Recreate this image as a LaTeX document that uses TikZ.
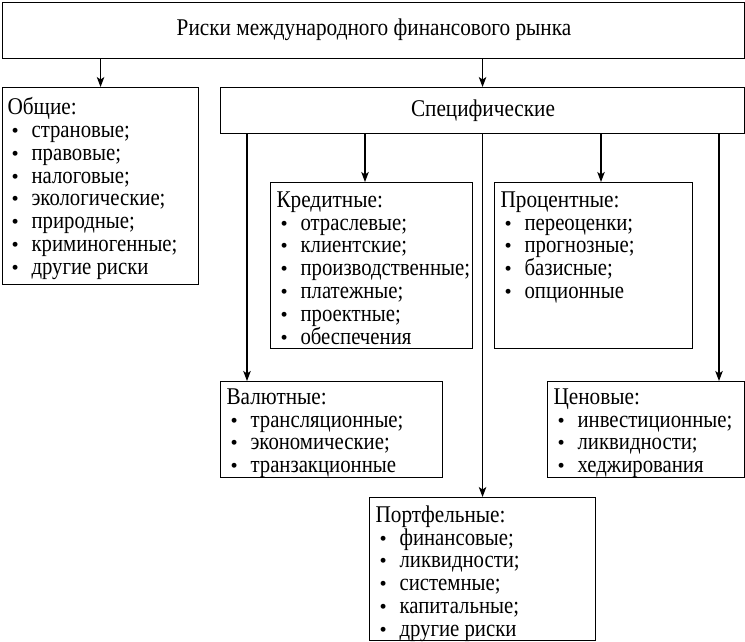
\documentclass[tikz,border=0pt]{standalone}
\usepackage{fontspec}
\usepackage{graphicx}
\setmainfont{Liberation Serif}
\usetikzlibrary{arrows.meta}
\newcommand{\sx}[1]{\scalebox{0.885}[1]{#1}}
\newcommand{\sxi}[1]{\scalebox{0.865}[1]{#1}}
\newcommand{\itm}[1]{\hspace*{4pt}\makebox[20pt][l]{\scalebox{0.85}{\textbullet}}\sxi{#1}}
\begin{document}
\begin{tikzpicture}[x=1pt,y=-1pt,line width=1.1pt,
  box/.style={draw,line width=1.1pt,inner sep=0pt,anchor=north west},
  lst/.style={anchor=north west,align=left,inner sep=0pt,font=\fontsize{24}{22.8}\selectfont},
  ttl/.style={font=\fontsize{24}{22.8}\selectfont,inner sep=0pt},
  arr/.style={-{Stealth[length=10pt,width=7.5pt,inset=2.5pt]}}]
\useasboundingbox (0,0) rectangle (745,641);
% boxes
\node[box,minimum width=742pt,minimum height=56.5pt] (top) at (1.5,1.5) {};
\node[ttl] (toptxt) at (374,30) {\sx{Риски международного финансового рынка}};
\node[box,minimum width=196pt,minimum height=197pt] (obs) at (2,87) {};
\node[box,minimum width=524pt,minimum height=46pt] (spec) at (220,87) {};
\node[ttl] (spectxt) at (483,111) {\sx{Специфические}};
\node[box,minimum width=202pt,minimum height=166pt] (kred) at (270,182) {};
\node[box,minimum width=198pt,minimum height=166pt] (proc) at (494,182) {};
\node[box,minimum width=222pt,minimum height=96pt] (val) at (220,381) {};
\node[box,minimum width=197pt,minimum height=96pt] (cen) at (547,381) {};
\node[box,minimum width=226pt,minimum height=143pt] (port) at (369,497) {};
% texts
\node[lst] (obstxt) at ([xshift=5pt,yshift=-10pt]obs.north west) {\sx{Общие:}\\ \itm{страновые;}\\ \itm{правовые;}\\ \itm{налоговые;}\\ \itm{экологические;}\\ \itm{природные;}\\ \itm{криминогенные;}\\ \itm{другие риски}};
\node[lst] (kredtxt) at ([xshift=6pt,yshift=-9pt]kred.north west) {\sx{Кредитные:}\\ \itm{отраслевые;}\\ \itm{клиентские;}\\ \itm{производственные;}\\ \itm{платежные;}\\ \itm{проектные;}\\ \itm{обеспечения}};
\node[lst] (proctxt) at ([xshift=6pt,yshift=-9pt]proc.north west) {\sx{Процентные:}\\ \itm{переоценки;}\\ \itm{прогнозные;}\\ \itm{базисные;}\\ \itm{опционные}};
\node[lst] (valtxt) at ([xshift=6pt,yshift=-7pt]val.north west) {\sx{Валютные:}\\ \itm{трансляционные;}\\ \itm{экономические;}\\ \itm{транзакционные}};
\node[lst] (centxt) at ([xshift=6pt,yshift=-7pt]cen.north west) {\sx{Ценовые:}\\ \itm{инвестиционные;}\\ \itm{ликвидности;}\\ \itm{хеджирования}};
\node[lst] (porttxt) at ([xshift=6pt,yshift=-8pt]port.north west) {\sx{Портфельные:}\\ \itm{финансовые;}\\ \itm{ликвидности;}\\ \itm{системные;}\\ \itm{капитальные;}\\ \itm{другие риски}};
% connector columns
\coordinate (cv) at (247,0);
\coordinate (ck) at (365,0);
\coordinate (cp) at (601,0);
\coordinate (cc) at (719,0);
\draw[arr] (top.south -| obs.north) -- (obs.north);
\draw[arr] (top.south -| spec.north) -- (spec.north);
\draw[arr] (spec.south -| cv) -- (val.north -| cv);
\draw[arr] (spec.south -| ck) -- (kred.north -| ck);
\draw[arr] (spec.south -| port.north) -- (port.north);
\draw[arr] (spec.south -| cp) -- (proc.north -| cp);
\draw[arr] (spec.south -| cc) -- (cen.north -| cc);
\end{tikzpicture}
\end{document}
